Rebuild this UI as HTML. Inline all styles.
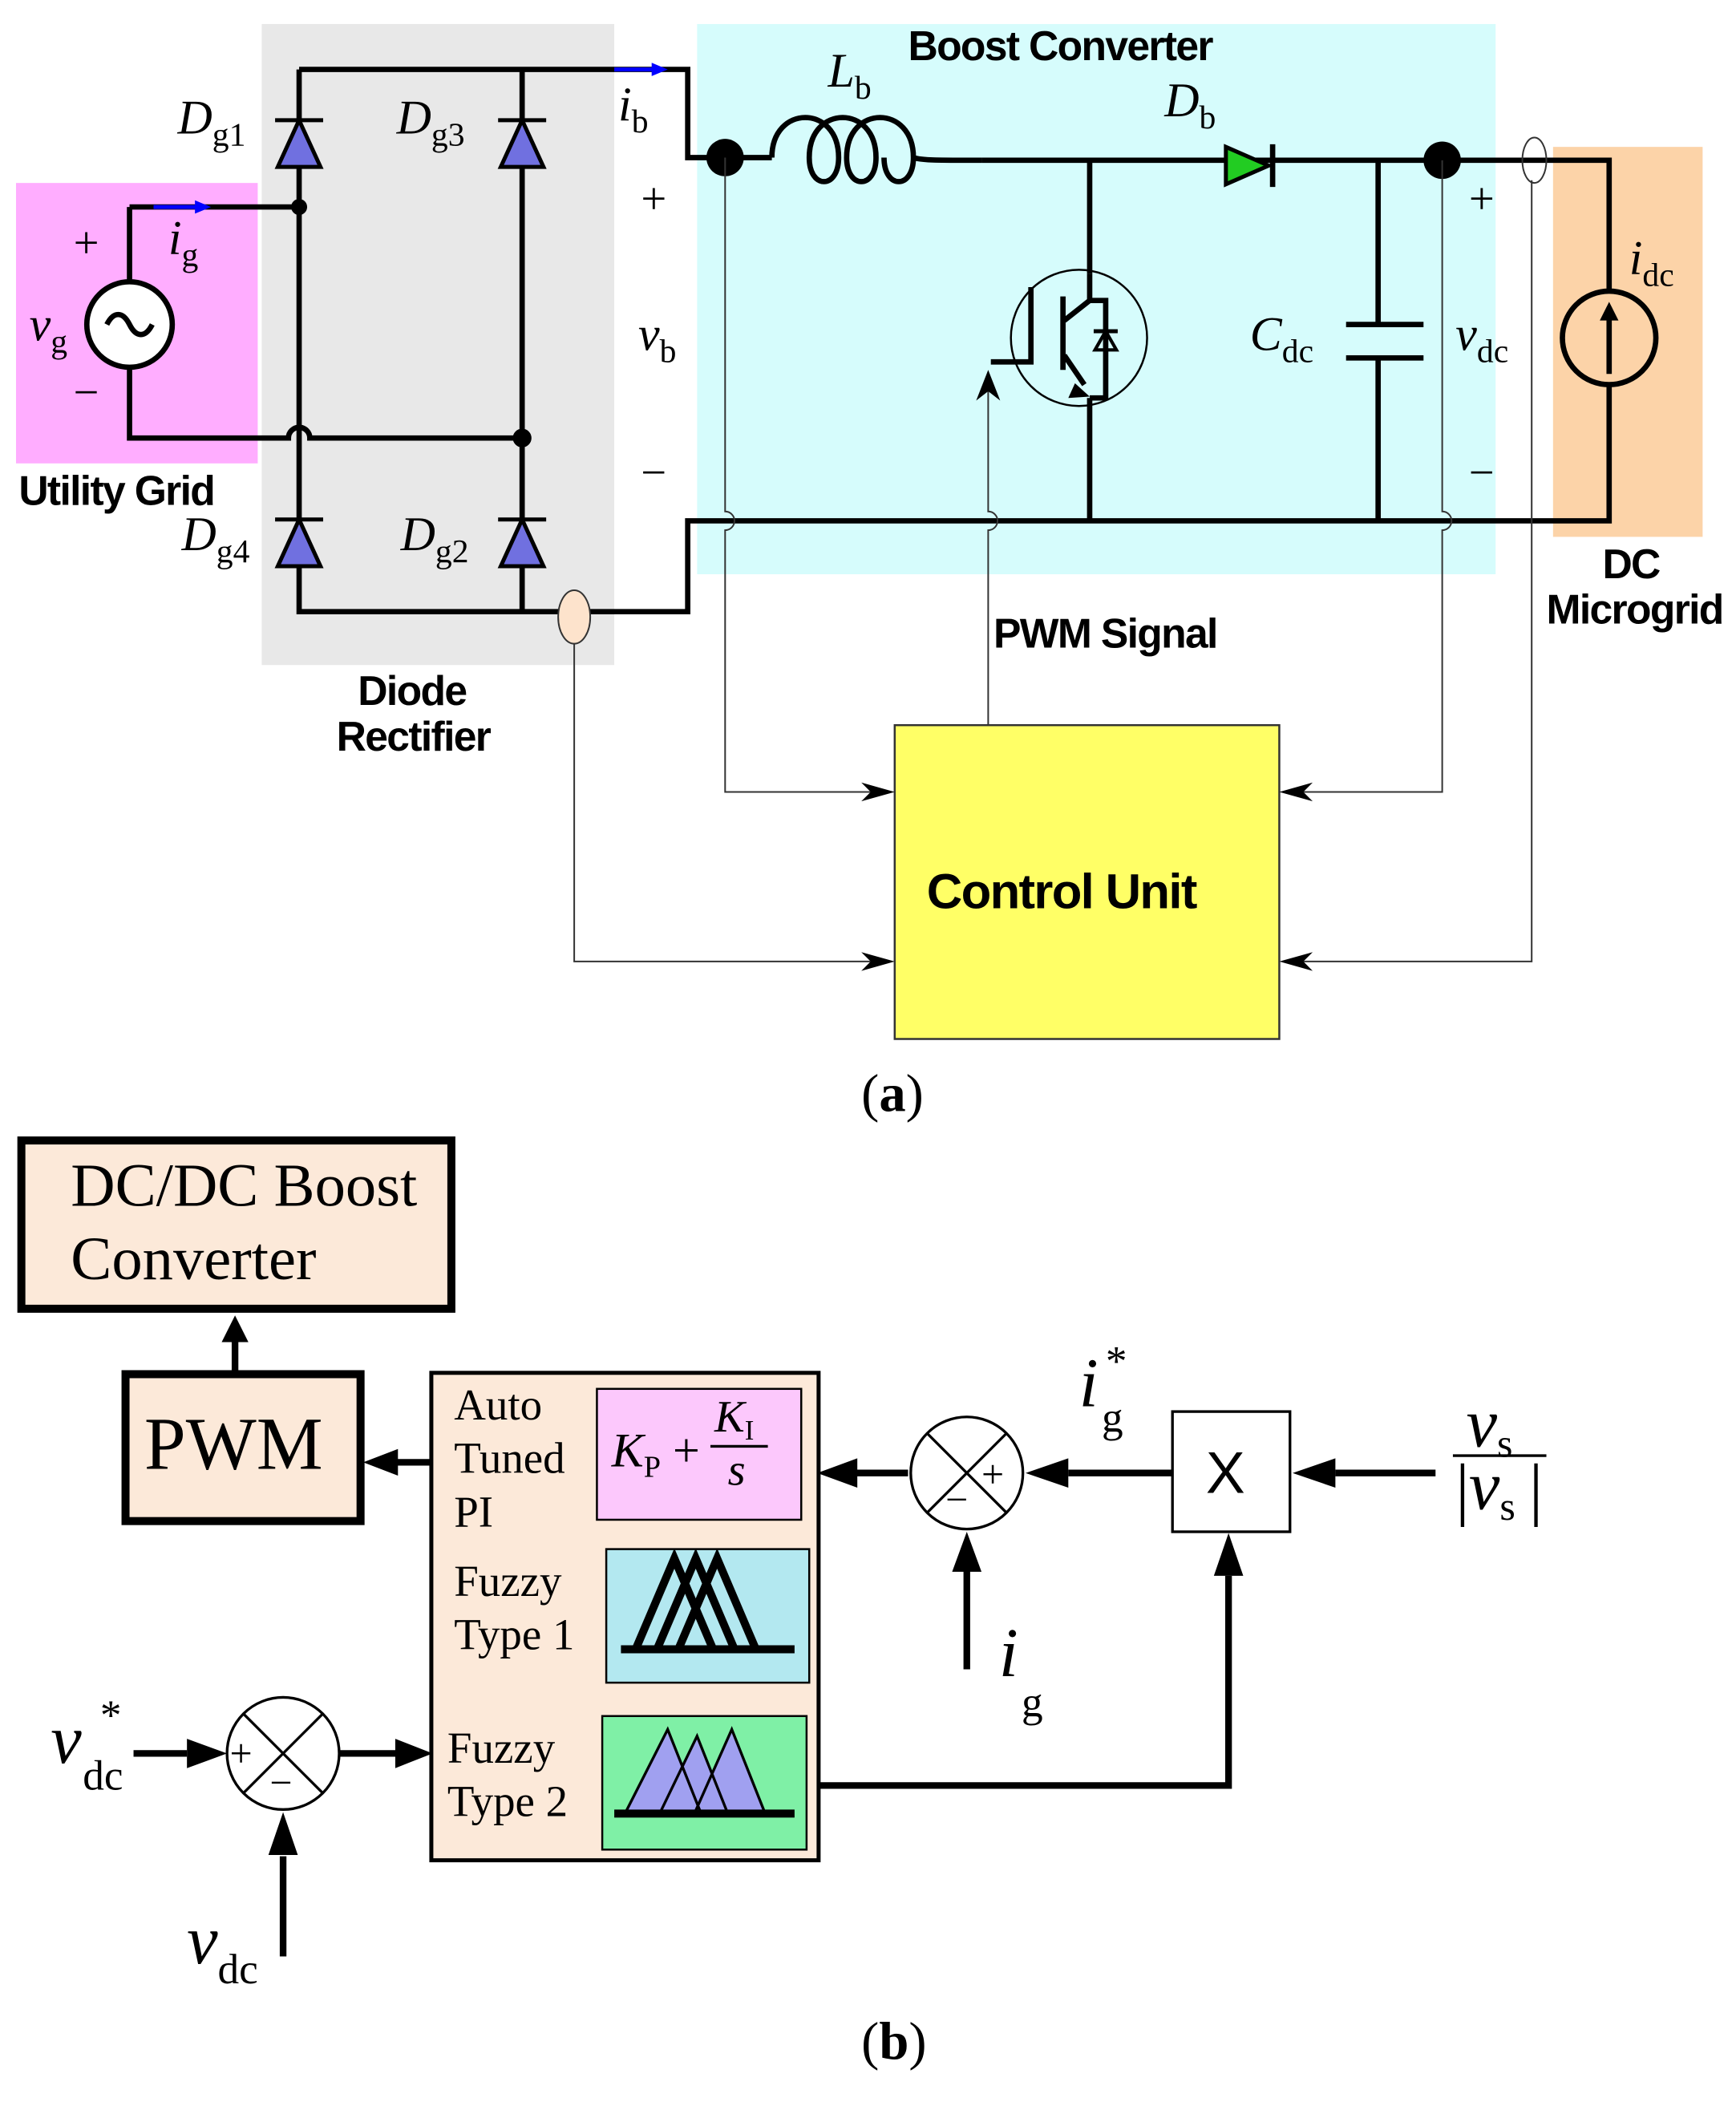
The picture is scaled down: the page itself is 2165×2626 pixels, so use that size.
<!DOCTYPE html>
<html><head><meta charset="utf-8"><style>
html,body{margin:0;padding:0;background:#fff}
svg{display:block}
.s{font-family:"Liberation Serif",serif}
.a{font-family:"Liberation Sans",sans-serif;font-weight:bold}
</style></head><body>
<svg width="2165" height="2626" viewBox="0 0 1300 1577" preserveAspectRatio="none" xmlns="http://www.w3.org/2000/svg">
<rect x="12" y="137" width="181" height="210" fill="#ff99ff" opacity="0.8"/>
<rect x="196" y="18" width="264" height="480" fill="#e8e8e8"/>
<rect x="522" y="18" width="598" height="412" fill="#d6fcfc"/>
<rect x="1163" y="110" width="112" height="292" fill="#fcd3a8"/>
<rect x="670" y="543" width="288" height="235" fill="#ffff66" stroke="#333" stroke-width="1.5"/>
<g stroke="#000" stroke-width="4" fill="none">
<path d="M224 52H515V118H578"/>
<path d="M578 118C578 78 628 78 628 118C628 142 606 142 606 118C606 78 656 78 656 118C656 142 634 142 634 118C634 78 684 78 684 118C684 142 662 142 662 118M684 118C690 120 700 120 735 120"/>
<path d="M735 120H1205V218"/>
<path d="M1205 288V390H515V458H224V52"/>
<path d="M391 52V458"/>
<path d="M97 155H224M97 155V211M97 275V328H216a8 8 0 0 1 16 0H391"/>
<path d="M816 120V205M816 298V390M1032 120V243M1032 268V390"/>
<path d="M1008 243H1066M1008 268H1066"/>
</g>
<circle cx="224" cy="155" r="6"/><circle cx="391" cy="328" r="7"/>
<circle cx="543" cy="118" r="14"/><circle cx="1080" cy="120" r="14"/>
<g fill="#7070e0" stroke="#000" stroke-width="3">
<path d="M208 125L224 90L240 125Z"/><path d="M375 125L391 90L407 125Z"/>
<path d="M208 424L224 389L240 424Z"/><path d="M375 424L391 389L407 424Z"/>
</g>
<g stroke="#000" stroke-width="3"><path d="M206 90H242M373 90H409M206 389H242M373 389H409"/></g>
<path d="M918 110L950 124L918 138Z" fill="#22cc22" stroke="#000" stroke-width="3"/>
<path d="M953 108V140" stroke="#000" stroke-width="4"/>
<circle cx="97" cy="243" r="32" fill="#fff" stroke="#000" stroke-width="4"/>
<path d="M80 243c5-10 12-10 17 0s12 10 17 0" stroke="#000" stroke-width="4" fill="none"/>
<circle cx="1205" cy="253" r="35" fill="none" stroke="#000" stroke-width="4"/>
<path d="M1205 280V230" stroke="#000" stroke-width="4"/><path d="M1198 240L1205 226L1212 240Z"/>
<path d="M115 155H150M460 52H490" stroke="#00f" stroke-width="3"/>
<path d="M146 150L158 155L146 160ZM488 47L500 52L488 57Z" fill="#00f"/>
<circle cx="808" cy="253" r="51" fill="none" stroke="#000" stroke-width="1.5"/>
<g stroke="#000" stroke-width="4" fill="none">
<path d="M742 271H772V215M796 222V277M797 240L816 225V205M816 225H828V298H816M797 266L812 288"/>
</g>
<path d="M805 287L816 297L800 298Z"/>
<path d="M820 262L828 248L836 262Z" fill="none" stroke="#000" stroke-width="2.5"/><path d="M819 248H837" stroke="#000" stroke-width="3"/>
<g stroke="#333" stroke-width="1.2" fill="none">
<path d="M543 118V383a7 7 0 0 1 0 14V593H665"/>
<path d="M1080 120V383a7 7 0 0 1 0 14V593H962"/>
<path d="M430 480V720H665"/>
<path d="M1147 135V720H962"/>
<path d="M740 543V397a7 7 0 0 0 0-14V280"/>
</g>
<ellipse cx="430" cy="462" rx="12" ry="20" fill="#fde3cc" stroke="#333" stroke-width="1.2"/>
<ellipse cx="1149" cy="120" rx="9" ry="17" fill="none" stroke="#333" stroke-width="1.2"/>
<g fill="#000"><path d="M670 593L645 586L652 593L645 600ZM958 593L983 586L976 593L983 600ZM670 720L645 713L652 720L645 727ZM958 720L983 713L976 720L983 727ZM740 277L731 300L740 293L749 300Z"/></g>
<g class="s" font-style="italic" font-size="36">
<text x="133" y="100">D<tspan font-size="25" font-style="normal" dy="9">g1</tspan></text>
<text x="297" y="100">D<tspan font-size="25" font-style="normal" dy="9">g3</tspan></text>
<text x="136" y="412">D<tspan font-size="25" font-style="normal" dy="9">g4</tspan></text>
<text x="300" y="412">D<tspan font-size="25" font-style="normal" dy="9">g2</tspan></text>
<text x="463" y="90">i<tspan font-size="25" font-style="normal" dy="9">b</tspan></text>
<text x="126" y="190">i<tspan font-size="25" font-style="normal" dy="9">g</tspan></text>
<text x="22" y="255">v<tspan font-size="25" font-style="normal" dy="9">g</tspan></text>
<text x="478" y="262">v<tspan font-size="25" font-style="normal" dy="9">b</tspan></text>
<text x="620" y="65">L<tspan font-size="25" font-style="normal" dy="9">b</tspan></text>
<text x="872" y="87">D<tspan font-size="25" font-style="normal" dy="9">b</tspan></text>
<text x="936" y="262">C<tspan font-size="25" font-style="normal" dy="9">dc</tspan></text>
<text x="1090" y="262">v<tspan font-size="25" font-style="normal" dy="9">dc</tspan></text>
<text x="1220" y="205">i<tspan font-size="25" font-style="normal" dy="9">dc</tspan></text>
</g>
<g class="s" font-size="34"><text x="55" y="193">+</text><text x="55" y="305">−</text><text x="480" y="160">+</text><text x="480" y="365">−</text><text x="1100" y="160">+</text><text x="1100" y="365">−</text></g>
<g class="a" font-size="31" letter-spacing="-1">
<text x="680" y="45">Boost Converter</text>
<text x="14" y="378">Utility Grid</text>
<text x="268" y="528">Diode</text><text x="252" y="562">Rectifier</text>
<text x="744" y="485">PWM Signal</text>
<text x="1200" y="433">DC</text><text x="1158" y="467">Microgrid</text>
<text x="694" y="680" font-size="37">Control Unit</text>
</g>
<text x="645" y="832" class="s" font-size="40">(<tspan font-weight="bold">a</tspan>)</text>
<rect x="16" y="854" width="322" height="126" fill="#fce9d9" stroke="#000" stroke-width="6"/>
<text x="53" y="903" class="s" font-size="46">DC/DC Boost</text><text x="53" y="958" class="s" font-size="46">Converter</text>
<rect x="94" y="1029" width="176" height="110" fill="#fce9d9" stroke="#000" stroke-width="6"/>
<text x="108" y="1100" class="s" font-size="56">PWM</text>
<rect x="323" y="1028" width="290" height="365" fill="#fce9d9" stroke="#000" stroke-width="3"/>
<rect x="447" y="1040" width="153" height="98" fill="#fcc8fc" stroke="#000" stroke-width="1.5"/>
<rect x="454" y="1160" width="152" height="100" fill="#b3e8f0" stroke="#000" stroke-width="1.5"/>
<rect x="451" y="1285" width="153" height="100" fill="#7ff0a6" stroke="#000" stroke-width="1.5"/>
<g class="s" font-size="33">
<text x="340" y="1063">Auto</text><text x="340" y="1103">Tuned</text><text x="340" y="1143">PI</text>
<text x="340" y="1195">Fuzzy</text><text x="340" y="1235">Type 1</text>
<text x="335" y="1320">Fuzzy</text><text x="335" y="1360">Type 2</text>
</g>
<text x="458" y="1098" class="s" font-size="36" font-style="italic">K<tspan font-size="23" font-style="normal" dy="8">P</tspan><tspan dy="-8" font-style="normal"> + </tspan></text>
<text x="535" y="1072" class="s" font-size="34" font-style="italic">K<tspan font-size="21" font-style="normal" dy="6">I</tspan></text>
<path d="M532 1083H575" stroke="#000" stroke-width="2"/>
<text x="545" y="1112" class="s" font-size="34" font-style="italic">s</text>
<g stroke="#000" stroke-width="6" fill="none"><path d="M465 1235H595"/><path d="M476 1235L505 1167L534 1235M492 1235L521 1167L550 1235M508 1235L537 1167L566 1235"/></g>
<g stroke="#000" stroke-width="2"><path d="M468 1358L500 1295L525 1358ZM494 1358L522 1300L545 1358ZM520 1358L548 1295L573 1358Z" fill="#a0a0f0"/></g>
<path d="M460 1358H595" stroke="#000" stroke-width="6"/>
<circle cx="724" cy="1103" r="42" fill="#fff" stroke="#000" stroke-width="2"/>
<path d="M694 1073L754 1133M754 1073L694 1133" stroke="#000" stroke-width="2"/>
<text x="735" y="1114" class="s" font-size="30">+</text><text x="708" y="1133" class="s" font-size="30">−</text>
<circle cx="212" cy="1313" r="42" fill="#fff" stroke="#000" stroke-width="2"/>
<path d="M182 1283L242 1343M242 1283L182 1343" stroke="#000" stroke-width="2"/>
<text x="172" y="1323" class="s" font-size="30">+</text><text x="202" y="1345" class="s" font-size="30">−</text>
<rect x="878" y="1057" width="88" height="90" fill="#fff" stroke="#000" stroke-width="2"/>
<text x="903" y="1118" font-family="Liberation Sans,sans-serif" font-size="44">X</text>
<g stroke="#000" stroke-width="5" fill="none">
<path d="M176 1027V1000M323 1095H295M680 1103H640M878 1103H800M1075 1103H1000M724 1250V1175M100 1313H140M254 1313H298M212 1465V1390M613 1337H920V1180"/>
</g>
<g fill="#000">
<path d="M176 985L166 1005H186ZM272 1095L298 1085V1105ZM612 1103L642 1092V1114ZM768 1103L800 1092V1114ZM968 1103L1000 1092V1114ZM724 1147L713 1177H735ZM170 1313L140 1302V1324ZM324 1313L296 1302V1324ZM212 1357L201 1389H223ZM920 1148L909 1180H931Z"/>
</g>
<g class="s" font-style="italic" font-size="52">
<text x="808" y="1053">i</text><text x="1098" y="1083">v<tspan font-size="30" font-style="normal" dy="8">s</tspan></text>
<text x="748" y="1255">i</text><text x="38" y="1320">v</text><text x="140" y="1470">v</text>
<text x="1090" y="1132" font-style="normal">|</text><text x="1100" y="1130">v<tspan font-size="30" font-style="normal" dy="8">s</tspan></text><text x="1145" y="1132" font-style="normal">|</text>
</g>
<path d="M1088 1090H1158" stroke="#000" stroke-width="2"/>
<g class="s" font-size="32"><text x="825" y="1072">g</text><text x="828" y="1030">*</text><text x="765" y="1285">g</text><text x="62" y="1340">dc</text><text x="75" y="1295">*</text><text x="163" y="1485">dc</text></g>
<text x="645" y="1542" class="s" font-size="40">(<tspan font-weight="bold">b</tspan>)</text>
</svg>
</body></html>
